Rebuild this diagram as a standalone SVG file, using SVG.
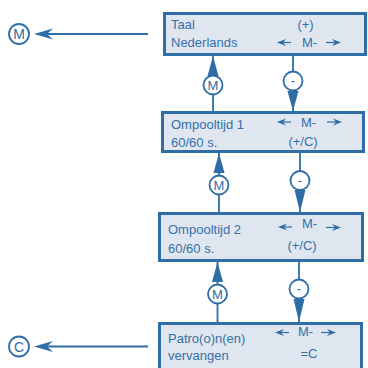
<svg xmlns="http://www.w3.org/2000/svg" width="368" height="368" viewBox="0 0 368 368">
<defs>
<style>
.box{fill:#dfe6f0;stroke:#2f6da6;stroke-width:3}
.t{font-family:"Liberation Sans",Arial,sans-serif;font-size:13px;fill:#3471aa}
.tc{font-family:"Liberation Sans",Arial,sans-serif;font-size:13px;fill:#3471aa;text-anchor:middle}
.ln{stroke:#2f6da6;stroke-width:1.8;fill:none}
.sl{stroke:#2f6da6;stroke-width:1.2;fill:none}
.hd{fill:#2f6da6}
.cir{fill:#fff;stroke:#2f6da6;stroke-width:1.8}
.ct{font-family:"Liberation Sans",Arial,sans-serif;font-size:13px;fill:#2f6da6;text-anchor:middle}
.big{font-family:"Liberation Sans",Arial,sans-serif;font-size:14px;fill:#2f6da6;text-anchor:middle}
</style>
<g id="sa-left"><path class="sl" d="M4,0 H14"/><path class="hd" d="M0,0 L9,-3.6 L6,0 L9,3.6 Z"/></g>
<g id="sa-right"><path class="sl" d="M0,0 H11"/><path class="hd" d="M15,0 L6,-3.6 L9,0 L6,3.6 Z"/></g>
</defs>

<g id="box1">
<rect class="box" x="164.5" y="13.5" width="201" height="41"/>
<text class="t" x="171" y="28.5">Taal</text>
<text class="t" x="171" y="46.5">Nederlands</text>
<text class="tc" x="305.5" y="28.5">(+)</text>
<use href="#sa-left" x="277" y="42.5"/>
<text class="t" x="302" y="46.5">M-</text>
<use href="#sa-right" x="326" y="42.5"/>
</g>

<g id="box2">
<rect class="box" x="162.5" y="112.5" width="201" height="39"/>
<text class="t" x="171" y="128.5">Ompooltijd 1</text>
<text class="t" x="171" y="146.5">60/60 s.</text>
<use href="#sa-left" x="277" y="122"/>
<text class="t" x="301" y="127">M-</text>
<use href="#sa-right" x="327" y="122"/>
<text class="tc" x="303" y="146">(+/C)</text>
</g>

<g id="box3">
<rect class="box" x="159.5" y="213.5" width="203" height="47"/>
<text class="t" x="168" y="234">Ompooltijd 2</text>
<text class="t" x="168" y="252.5">60/60 s.</text>
<use href="#sa-left" x="278" y="227"/>
<text class="t" x="302" y="228">M-</text>
<use href="#sa-right" x="326" y="227.5"/>
<text class="tc" x="302" y="250">(+/C)</text>
</g>

<g id="box4">
<rect class="box" x="159.5" y="323.5" width="202" height="60"/>
<text class="t" x="168" y="343">Patro(o)n(en)</text>
<text class="t" x="168" y="360">vervangen</text>
<use href="#sa-left" x="275" y="332.5"/>
<text class="t" x="298" y="336">M-</text>
<use href="#sa-right" x="321" y="332.5"/>
<text class="tc" x="309" y="358">=C</text>
</g>

<g id="exitM">
<circle class="cir" cx="19" cy="34" r="10"/>
<text class="big" x="19" y="39">M</text>
</g>
<g id="exitC">
<circle class="cir" cx="19" cy="346.5" r="10"/>
<text class="big" x="19" y="351.5">C</text>
</g>

<g id="connectors">
<path class="ln" d="M148,34 H45"/>
<path class="hd" d="M34,34 L53,28.5 L47,34 L53,39.5 Z"/>
<path class="ln" d="M148,346.5 H45"/>
<path class="hd" d="M34,346.5 L53,341 L47,346.5 L53,352 Z"/>

<!-- box1-box2 -->
<path class="ln" d="M213,56 V111"/>
<path class="hd" d="M213,56 L218.5,76 L207.5,76 Z"/>
<circle class="cir" cx="213" cy="85" r="9.5"/>
<text class="ct" x="213" y="89.7">M</text>
<path class="ln" d="M293,56 V111"/>
<circle class="cir" cx="293" cy="81" r="9.5"/>
<text class="ct" x="293" y="85">-</text>
<path class="hd" d="M293,111 L287.5,91 L298.5,91 Z"/>

<!-- box2-box3 -->
<path class="ln" d="M219,153 V212"/>
<path class="hd" d="M219,153 L224.5,173 L213.5,173 Z"/>
<circle class="cir" cx="219" cy="185" r="9.5"/>
<text class="ct" x="219" y="189.7">M</text>
<path class="ln" d="M300,153 V212"/>
<circle class="cir" cx="300" cy="180.5" r="9.5"/>
<text class="ct" x="300" y="184.5">-</text>
<path class="hd" d="M300,212 L294.5,190 L305.5,190 Z"/>

<!-- box3-box4 -->
<path class="ln" d="M217.5,262 V322"/>
<path class="hd" d="M217.5,262 L223,282 L212,282 Z"/>
<circle class="cir" cx="217.5" cy="294" r="9.5"/>
<text class="ct" x="217.5" y="298.7">M</text>
<path class="ln" d="M299,262 V322"/>
<circle class="cir" cx="299" cy="289" r="9.5"/>
<text class="ct" x="299" y="293">-</text>
<path class="hd" d="M299,322 L293.5,299 L304.5,299 Z"/>
</g>
</svg>
